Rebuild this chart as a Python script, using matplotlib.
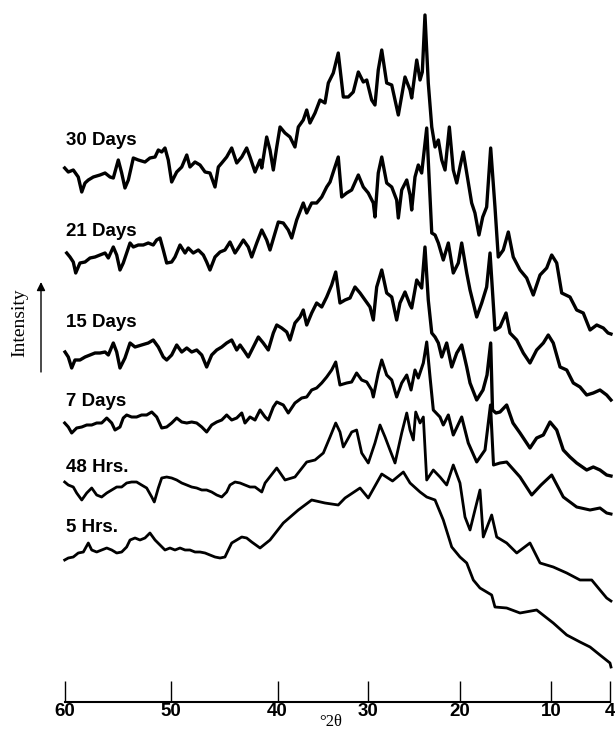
import numpy as np
import matplotlib
matplotlib.use("Agg")
import matplotlib.pyplot as plt
from matplotlib.scale import FuncScale

# ---------------- data (2theta in degrees, stacked intensity in a.u.) ----------------
labels = ["30 Days", "21 Days", "15 Days", "7 Days", "48 Hrs.", "5 Hrs."]
label_level = [555, 464, 373, 294, 228, 168]   # baseline of each label (a.u.)

tt_30d = [60.0, 59.66, 59.19, 58.72, 58.39, 58.08, 57.77, 57.30, 56.67, 56.19, 55.72, 55.41, 54.94, 54.62, 54.31, 53.99,
          53.52, 53.05, 52.42, 51.95, 51.47, 51.16, 50.84, 50.53, 50.22, 49.90, 49.43, 48.96, 48.49, 48.19, 47.72, 47.25,
          46.78, 46.32, 45.85, 45.54, 45.22, 44.76, 44.29, 43.82, 43.35, 42.89, 42.58, 42.11, 41.64, 41.48, 41.02, 40.71,
          40.40, 40.08, 39.73, 39.18, 38.63, 38.08, 37.71, 37.16, 36.78, 36.42, 35.86, 35.31, 34.76, 34.39, 33.84, 33.29,
          32.73, 32.18, 31.63, 31.07, 30.52, 30.14, 29.60, 29.24, 28.88, 28.50, 27.96, 27.41, 26.69, 25.96, 25.41, 25.23,
          24.68, 24.32, 24.07, 23.78, 23.42, 23.04, 22.68, 22.32, 21.95, 21.59, 21.12, 20.69, 20.31, 19.96, 19.60, 19.22,
          18.68, 18.32, 17.88, 17.47, 17.04, 16.60, 16.13, 15.77, 15.22, 14.67, 14.13, 13.39, 12.66, 11.94, 11.20, 10.47,
          9.93, 9.42, 8.91, 8.07, 7.39, 6.72, 6.03, 5.35, 4.68, 4.20, 3.90]
int_30d = [532, 528, 530, 523, 508, 517, 520, 523, 525, 527, 523, 522, 540, 527, 512, 520,
           542, 540, 538, 542, 543, 550, 548, 552, 540, 518, 528, 533, 545, 533, 538, 535,
           528, 527, 513, 533, 537, 543, 552, 537, 543, 552, 543, 528, 540, 532, 563, 550,
           530, 553, 573, 567, 563, 553, 573, 580, 590, 577, 587, 600, 597, 617, 627, 647,
           603, 603, 608, 628, 618, 620, 600, 595, 630, 650, 617, 615, 585, 623, 610, 602,
           640, 620, 628, 685, 617, 573, 553, 560, 540, 530, 573, 530, 517, 533, 548, 527,
           497, 487, 465, 483, 493, 552, 493, 443, 450, 468, 443, 430, 422, 405, 425, 432,
           445, 437, 407, 403, 390, 387, 370, 375, 372, 367, 366]

tt_21d = [59.81, 59.50, 59.19, 58.96, 58.56, 58.08, 57.61, 57.14, 56.67, 56.19, 55.88, 55.41, 55.09, 54.78, 54.47, 54.15,
          53.83, 53.52, 53.05, 52.58, 52.11, 51.64, 51.32, 51.00, 50.69, 50.37, 49.90, 49.59, 49.12, 48.65, 48.35, 47.88,
          47.41, 46.94, 46.63, 46.32, 45.85, 45.38, 44.92, 44.45, 43.98, 43.67, 43.20, 42.74, 42.42, 41.95, 41.48, 41.02,
          40.71, 40.24, 39.92, 39.37, 38.82, 38.44, 37.89, 37.16, 36.78, 36.23, 35.68, 35.12, 34.57, 34.20, 33.84, 33.29,
          32.91, 32.36, 31.81, 31.07, 30.52, 29.97, 29.42, 29.24, 28.88, 28.50, 27.96, 27.41, 26.87, 26.69, 26.32, 25.77,
          25.41, 25.23, 24.87, 24.51, 24.14, 23.59, 23.04, 22.68, 22.32, 21.78, 21.23, 20.69, 20.14, 19.77, 19.22, 18.86,
          18.13, 17.58, 17.04, 16.67, 16.13, 15.58, 14.92, 14.49, 13.75, 13.03, 12.30, 11.57, 10.84, 10.30, 9.77, 9.08,
          8.40, 7.73, 7.05, 6.37, 5.70, 5.02, 4.34, 3.90]
int_21d = [447, 443, 438, 427, 437, 438, 442, 443, 445, 447, 442, 453, 445, 430, 437, 447,
           457, 453, 455, 455, 457, 455, 460, 462, 450, 437, 438, 443, 455, 447, 452, 447,
           450, 445, 438, 430, 443, 448, 450, 458, 447, 452, 460, 453, 443, 457, 470, 460,
           450, 467, 478, 477, 470, 462, 480, 497, 487, 497, 497, 503, 513, 518, 528, 543,
           503, 507, 510, 525, 513, 507, 497, 483, 527, 543, 517, 513, 500, 482, 510, 520,
           505, 490, 523, 535, 527, 572, 467, 465, 457, 440, 457, 427, 437, 457, 427, 410,
           383, 397, 413, 447, 370, 373, 387, 367, 360, 347, 337, 350, 357, 365, 357, 333,
           330, 317, 313, 305, 307, 310, 305, 300]

tt_15d = [59.97, 59.66, 59.34, 59.03, 58.56, 58.08, 57.61, 57.14, 56.67, 56.19, 55.88, 55.41, 55.09, 54.78, 54.31, 53.83,
          53.36, 52.74, 52.11, 51.64, 51.16, 50.69, 50.37, 49.90, 49.43, 48.96, 48.49, 48.03, 47.56, 47.09, 46.63, 46.16,
          45.69, 45.22, 44.76, 44.29, 43.82, 43.51, 43.05, 42.74, 42.27, 41.80, 41.34, 40.87, 40.40, 40.08, 39.55, 38.99,
          38.63, 38.08, 37.52, 37.16, 36.78, 36.23, 35.68, 35.12, 34.57, 34.02, 33.57, 33.10, 32.54, 31.99, 31.44, 30.88,
          30.33, 29.78, 29.42, 29.05, 28.50, 27.96, 27.41, 26.87, 26.51, 25.96, 25.41, 25.23, 24.68, 24.14, 23.78, 23.42,
          23.04, 22.68, 22.32, 21.95, 21.41, 20.86, 20.31, 19.77, 19.22, 18.86, 18.13, 17.44, 17.00, 16.60, 16.40, 16.02,
          15.58, 14.85, 14.16, 13.39, 12.30, 11.57, 10.84, 10.11, 9.42, 8.75, 8.07, 7.39, 6.37, 5.70, 5.02, 4.34, 3.90]
int_15d = [348, 343, 332, 340, 340, 343, 345, 347, 347, 348, 345, 357, 348, 332, 342, 357,
           353, 355, 357, 360, 353, 343, 340, 345, 355, 348, 352, 348, 350, 345, 333, 345,
           350, 353, 357, 360, 350, 355, 348, 343, 353, 363, 357, 350, 367, 375, 372, 368,
           360, 377, 383, 390, 375, 387, 397, 393, 403, 415, 428, 397, 400, 402, 413, 407,
           400, 393, 380, 413, 430, 407, 403, 380, 397, 408, 395, 392, 420, 412, 453, 400,
           367, 363, 357, 343, 357, 333, 347, 355, 333, 317, 300, 310, 325, 357, 290, 287,
           288, 295, 277, 267, 252, 262, 265, 278, 270, 250, 243, 237, 230, 233, 230, 225, 224]

tt_7d = [60.0, 59.66, 59.34, 58.87, 58.39, 57.92, 57.45, 56.98, 56.51, 56.03, 55.56, 55.25, 54.78, 54.47, 54.15, 53.68,
         53.21, 52.74, 52.26, 51.78, 51.31, 50.84, 50.37, 49.90, 49.43, 48.96, 48.49, 48.03, 47.56, 47.09, 46.63, 46.16,
         45.69, 45.22, 44.76, 44.29, 43.82, 43.35, 43.05, 42.58, 42.11, 41.64, 41.17, 40.87, 40.40, 40.08, 39.37, 38.82,
         38.08, 37.33, 36.78, 36.23, 35.68, 35.12, 34.57, 34.02, 33.57, 33.10, 32.36, 31.81, 31.26, 30.70, 30.14, 29.60,
         29.42, 28.88, 28.50, 27.96, 27.41, 26.87, 26.32, 25.77, 25.30, 24.87, 24.51, 23.96, 23.59, 23.23, 22.87, 22.14,
         21.78, 21.23, 20.69, 19.77, 19.05, 18.13, 17.22, 16.62, 16.29, 15.58, 14.85, 13.39, 12.11, 11.09, 9.93, 8.75,
         7.39, 6.03, 5.02, 4.34, 3.90]
int_7d = [277, 273, 267, 272, 273, 275, 275, 277, 277, 282, 277, 270, 273, 282, 285, 283,
          283, 285, 285, 288, 283, 272, 273, 277, 282, 278, 277, 278, 277, 273, 268, 275,
          278, 280, 285, 280, 282, 287, 277, 283, 280, 290, 283, 280, 293, 298, 295, 287,
          297, 302, 303, 310, 312, 317, 323, 330, 338, 315, 317, 318, 327, 320, 318, 310,
          303, 327, 340, 325, 320, 303, 317, 325, 310, 330, 322, 337, 358, 323, 290, 283,
          275, 285, 265, 283, 257, 238, 250, 295, 235, 237, 238, 223, 205, 215, 225, 203,
          193, 190, 192, 187, 186]

tt_48h = [60.0, 59.66, 59.19, 58.87, 58.39, 57.92, 57.45, 56.98, 56.51, 56.03, 55.56, 55.09, 54.62, 54.15, 53.68, 53.21,
          52.74, 52.26, 51.78, 51.54, 51.16, 50.84, 50.37, 49.90, 49.43, 48.96, 48.49, 48.03, 47.56, 47.09, 46.63, 46.16,
          45.69, 45.22, 44.76, 44.45, 43.98, 43.51, 43.05, 42.58, 42.11, 41.48, 41.17, 40.08, 39.18, 38.08, 36.78, 35.86,
          34.94, 34.20, 33.57, 33.10, 32.73, 31.80, 31.26, 30.70, 29.97, 29.24, 28.69, 28.14, 27.60, 27.05, 26.32, 25.77,
          25.41, 25.05, 24.79, 24.32, 23.96, 23.59, 22.87, 22.14, 21.41, 20.69, 19.96, 19.41, 18.86, 18.32, 17.77, 17.41,
          16.49, 15.94, 14.85, 13.75, 12.30, 11.20, 9.77, 8.40, 7.05, 5.86, 5.02, 4.34, 3.90]
int_48h = [218, 215, 213, 207, 200, 207, 212, 205, 203, 207, 210, 213, 213, 217, 218, 218,
           215, 212, 203, 198, 212, 222, 223, 222, 220, 217, 215, 213, 212, 210, 210, 208,
           205, 203, 208, 215, 218, 217, 215, 213, 213, 208, 217, 232, 220, 223, 238, 240,
           247, 263, 277, 268, 253, 268, 270, 247, 237, 257, 275, 263, 250, 237, 267, 287,
           270, 260, 288, 277, 283, 220, 230, 223, 215, 235, 217, 183, 170, 190, 210, 163,
           185, 163, 157, 147, 157, 137, 133, 127, 120, 120, 110, 102, 99]

tt_5h = [60.0, 59.66, 59.19, 58.72, 58.24, 57.77, 57.45, 56.98, 56.51, 56.03, 55.56, 55.09, 54.62, 54.15, 53.83, 53.36,
         52.89, 52.42, 51.95, 51.47, 51.00, 50.53, 50.06, 49.59, 49.12, 48.65, 48.19, 47.72, 47.25, 46.78, 46.32, 45.85,
         45.38, 44.92, 44.61, 44.29, 43.82, 43.35, 42.89, 42.42, 41.64, 40.71, 39.37, 37.71, 36.23, 34.76, 33.29, 32.54,
         30.88, 29.97, 28.50, 27.32, 26.14, 25.41, 24.32, 23.59, 22.68, 21.78, 20.86, 19.96, 19.22, 18.50, 17.77, 16.49,
         16.13, 14.85, 13.39, 11.57, 9.77, 8.40, 7.05, 6.03, 5.02, 4.00, 3.90]
int_5h = [140, 142, 143, 147, 148, 157, 150, 148, 150, 152, 150, 147, 148, 153, 160, 162,
          160, 162, 167, 160, 155, 150, 152, 150, 152, 150, 150, 148, 148, 147, 145, 143,
          142, 143, 150, 157, 160, 163, 162, 158, 152, 160, 177, 190, 200, 197, 195, 202,
          212, 202, 226, 219, 228, 217, 208, 203, 200, 180, 153, 143, 137, 120, 112, 105,
          93, 92, 87, 90, 77, 65, 58, 53, 45, 37, 33]

series = [(tt_30d, int_30d), (tt_21d, int_21d), (tt_15d, int_15d),
          (tt_7d, int_7d), (tt_48h, int_48h), (tt_5h, int_5h)]
line_widths = [2.4, 2.4, 2.4, 2.2, 2.0, 2.0]

xticks = [60, 50, 40, 30, 20, 10, 4]

# ------------- axis scale: the printed tick marks are not evenly spaced -------------
_deg = [0, 4, 10, 20, 30, 40, 50, 60, 70]
_pos = [649.3, 610.0, 551.0, 459.6, 368.0, 277.6, 170.6, 64.7, -41.2]
_negpos = [-p for p in _pos]            # increasing with degrees

def _fwd(x):
    return np.interp(np.asarray(x, dtype=float), _deg, _negpos)

def _inv(p):
    return np.interp(np.asarray(p, dtype=float), _negpos, _deg)

# ---------------- figure ----------------
W, H = 615, 731
fig = plt.figure(figsize=(W / 100, H / 100), dpi=100)
ax = fig.add_axes([64.7 / W, 1 - 702 / H, (610 - 64.7) / W, 702 / H])
ax.set_xscale(FuncScale(ax.xaxis, (_fwd, _inv)))
ax.set_xlim(60, 4)
ax.set_ylim(-2, 700)

for (tt, inten), lw in zip(series, line_widths):
    ax.plot(tt, inten, color="black", lw=lw, solid_joinstyle="round", clip_on=False)

for lab, lev in zip(labels, label_level):
    ax.text(59.85, lev, lab, fontsize=13.5, fontweight="bold",
            family="Liberation Sans", ha="left", va="baseline")

for s in ["top", "left", "right"]:
    ax.spines[s].set_visible(False)
ax.spines["bottom"].set_linewidth(1.5)
ax.set_yticks([])
ax.set_xticks(xticks)
ax.set_xticklabels([str(t) for t in xticks])
ax.tick_params(axis="x", direction="in", length=15, width=1.0, pad=1)
for t in ax.get_xticklabels():
    t.set_fontsize(13.5)
    t.set_fontweight("bold")
    t.set_family("Liberation Sans")

fig.text(331 / W, 1 - 722 / H, "°2θ", fontsize=12, family="Liberation Serif",
         ha="center", va="center")
fig.text(20 / W, 1 - 323 / H, "Intensity", fontsize=14, family="Liberation Serif",
         rotation=90, ha="center", va="center")
fig.add_artist(matplotlib.patches.FancyArrowPatch(
    (41 / W, 1 - 372 / H), (41 / W, 1 - 282 / H), transform=fig.transFigure,
    arrowstyle="-|>,head_length=5,head_width=2.5", color="black", lw=1.0,
    shrinkA=0, shrinkB=0))

fig.savefig("out.png", dpi=100)
